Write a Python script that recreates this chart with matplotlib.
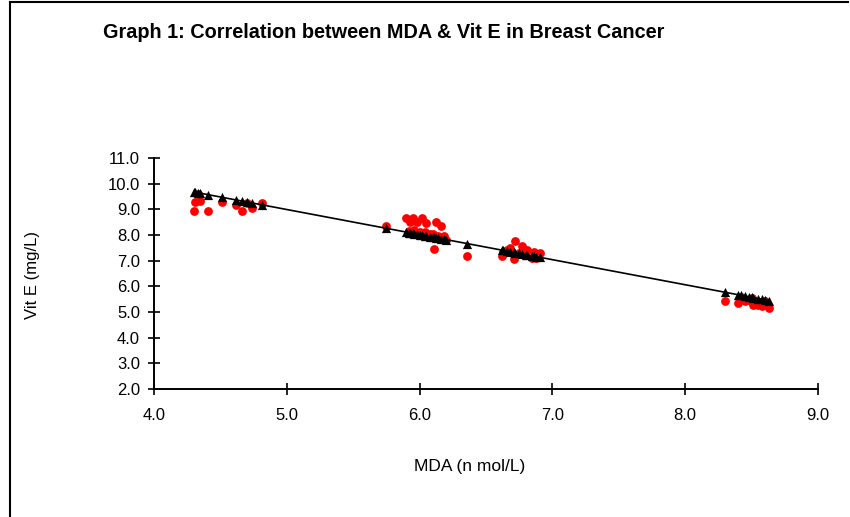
import numpy as np
import matplotlib.pyplot as plt
from matplotlib.lines import Line2D

# MDA (n mol/L) and Vit E (mg/L)
mda = [4.30, 4.31, 4.33, 4.35, 4.41, 4.51, 4.62, 4.66, 4.70, 4.74, 4.81,
       5.75, 5.90, 5.92, 5.93, 5.95, 5.96, 5.98, 6.00, 6.02, 6.04, 6.05, 6.08, 6.10,
       6.11, 6.12, 6.14, 6.16, 6.18, 6.20, 6.36,
       6.62, 6.63, 6.66, 6.68, 6.71, 6.72, 6.75, 6.77, 6.80, 6.81, 6.85, 6.86, 6.88, 6.91,
       8.30, 8.40, 8.42, 8.45, 8.48, 8.50, 8.51, 8.55, 8.58, 8.60, 8.63]
vit_e = [8.95, 9.30, 9.60, 9.34, 8.95, 9.27, 9.15, 8.92, 9.24, 9.05, 9.23,
         8.37, 8.67, 8.15, 8.49, 8.67, 8.18, 8.52, 8.10, 8.67, 8.12, 8.45, 8.02, 8.05,
         7.46, 8.49, 7.98, 8.34, 7.98, 7.82, 7.20,
         7.17, 7.32, 7.40, 7.48, 7.05, 7.76, 7.30, 7.56, 7.38, 7.43, 7.11, 7.32, 7.12, 7.31,
         5.42, 5.36, 5.60, 5.42, 5.47, 5.53, 5.29, 5.29, 5.23, 5.44, 5.16]

x = np.array(mda)
y = np.array(vit_e)
slope, intercept = np.polyfit(x, y, 1)
y_pred = slope * x + intercept

fig = plt.figure(figsize=(8.5, 5.17), dpi=100)
ax = fig.add_axes([154/850, 1 - 389/517, 664/850, 231/517])

ax.scatter(x, y, s=40, color='#ff0000', zorder=2, linewidths=0)
order = np.argsort(x)
ax.plot(x[order], y_pred[order], color='black', lw=1.2, zorder=3)
ax.scatter(x, y_pred, s=44, marker='^', color='black', zorder=4, linewidths=0)

ax.set_xlim(4.0, 9.0)
ax.set_ylim(2.0, 11.0)
ax.set_xticks(np.arange(4.0, 9.01, 1.0))
ax.set_yticks(np.arange(2.0, 11.01, 1.0))
ax.set_xticklabels([f'{v:.1f}' for v in np.arange(4.0, 9.01, 1.0)])
ax.set_yticklabels([f'{v:.1f}' for v in np.arange(2.0, 11.01, 1.0)])
for s in ['top', 'right']:
    ax.spines[s].set_visible(False)
for s in ['left', 'bottom']:
    ax.spines[s].set_linewidth(1.4)
ax.tick_params(direction='inout', length=8, width=1.2, labelsize=12, colors='black')
ax.tick_params(axis='x', pad=10)
ax.tick_params(axis='y', pad=6)
for lab in ax.get_xticklabels() + ax.get_yticklabels():
    lab.set_family('Liberation Sans')

fig.text(103/850, 1 - 33/517, 'Graph 1: Correlation between MDA & Vit E in Breast Cancer',
         fontsize=14.3, fontweight='bold', family='Liberation Sans', va='center', ha='left')
fig.text(470/850, 1 - 466/517, 'MDA (n mol/L)', fontsize=12.5, family='Liberation Sans',
         ha='center', va='center')
fig.text(33/850, 1 - 275/517, 'Vit E (mg/L)', fontsize=12, family='Liberation Sans',
         ha='center', va='center', rotation=90)

# chart-area border
fig.add_artist(Line2D([10/850, 10/850], [0, 1 - 2/517], transform=fig.transFigure, color='black', lw=1.5))
fig.add_artist(Line2D([10/850, 848/850], [1 - 2/517, 1 - 2/517], transform=fig.transFigure, color='black', lw=1.5))

fig.savefig('out.png', dpi=100)
